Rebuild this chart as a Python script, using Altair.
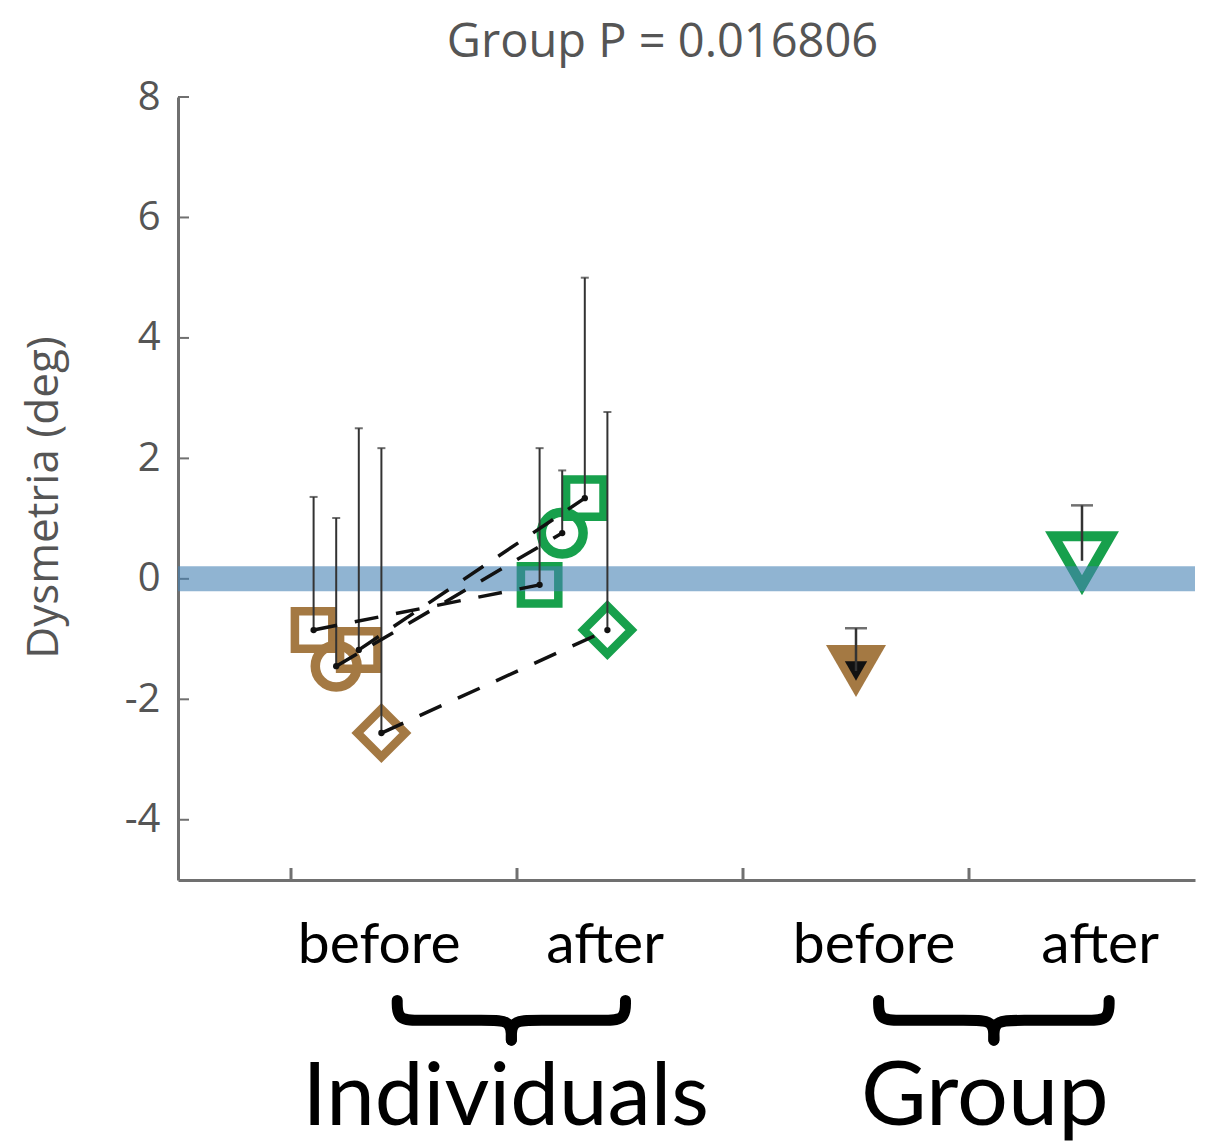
import altair as alt
import pandas as pd

# ---------------- data ----------------
subj_shape = ["square", "circle", "square", "diamond"]
before_x = [1.1, 1.2, 1.3, 1.4]
before_y = [-0.85, -1.45, -1.18, -2.56]
before_top = [1.36, 1.01, 2.50, 2.17]
after_x = [2.1, 2.2, 2.3, 2.4]
after_y = [-0.10, 0.76, 1.34, -0.85]
after_top = [2.17, 1.80, 5.0, 2.77]

group_x = [3.5, 4.5]
group_y = [-1.53, 0.30]
group_top = [-0.82, 1.22]
group_phase = ["before", "after"]

y_ticks = [-4, -2, 0, 2, 4, 6, 8]
x_ticks = [1, 2, 3, 4]

BROWN = "#a47943"
GREEN = "#17a04c"
AXC = "#707070"

W, H = 1017, 783
xs = alt.Scale(domain=[0.5, 5], nice=False, zero=False)
ys = alt.Scale(domain=[-5, 8], nice=False, zero=False)

XAX = alt.Axis(labels=False, ticks=False, grid=False, title=None, domainColor=AXC, domainWidth=3)
YAX = alt.Axis(values=y_ticks, ticks=False, grid=False,
               labelFontSize=40, labelColor="#555", labelFont="Open Sans",
               labelExpr="replace(datum.label, '\u2212', '-')",
               labelPadding=18, domainColor=AXC, domainWidth=3,
               title="Dysmetria (deg)", titleFontSize=44, titleFont="Open Sans",
               titleFontWeight="normal", titleColor="#555",
               titleX=-112, titleY=400)

rows = []
for i in range(4):
    rows.append(dict(subj=i, phase="before", shape=subj_shape[i], x=before_x[i], y=before_y[i], top=before_top[i]))
    rows.append(dict(subj=i, phase="after", shape=subj_shape[i], x=after_x[i], y=after_y[i], top=after_top[i]))
ind = pd.DataFrame(rows)
grp = pd.DataFrame(dict(x=group_x, y=group_y, top=group_top, phase=group_phase))

color_scale = alt.Scale(domain=["before", "after"], range=[BROWN, GREEN])

def X(f="x"):
    return alt.X(f"{f}:Q", scale=xs, axis=XAX)

def Y(f="y"):
    return alt.Y(f"{f}:Q", scale=ys, axis=YAX)

ytick_rules = alt.Chart(pd.DataFrame(dict(y=y_ticks))).mark_rule(color=AXC, strokeWidth=2).encode(
    y=Y(), x=alt.value(0), x2=alt.value(11))
xtick_rules = alt.Chart(pd.DataFrame(dict(x=x_ticks))).mark_rule(color=AXC, strokeWidth=3).encode(
    x=X(), y=alt.value(H), y2=alt.value(H - 12))

def shape_layer(shape, size, sw):
    return alt.Chart(ind).transform_filter(alt.datum.shape == shape).mark_point(
        shape=shape, size=size, strokeWidth=sw, filled=False, opacity=1).encode(
        x=X(), y=Y(), color=alt.Color("phase:N", scale=color_scale, legend=None))

squares = shape_layer("square", 1400, 8.5)
diamonds = shape_layer("diamond", 2300, 8.5)
circles = shape_layer("circle", 1750, 9.5)

grp_before_fill = alt.Chart(grp).transform_filter(alt.datum.phase == "before").mark_point(
    shape="triangle-down", size=3600, filled=True, color=BROWN, opacity=1).encode(x=X(), y=Y())
grp_before_core = alt.Chart(grp).transform_filter(alt.datum.phase == "before").mark_point(
    shape="triangle-down", size=500, filled=True, color="#111", opacity=1).encode(x=X(), y=Y())
grp_after = alt.Chart(grp).transform_filter(alt.datum.phase == "after").mark_point(
    shape="triangle-down", size=3200, filled=False, strokeWidth=10, color=GREEN, opacity=1).encode(x=X(), y=Y())

band = alt.Chart(pd.DataFrame(dict(y=[0]))).mark_rule(color="steelblue", opacity=0.6, strokeWidth=25).encode(
    y=Y(), x=alt.value(0), x2=alt.value(W))

ind_bars = alt.Chart(ind).mark_rule(color="#333", strokeWidth=2).encode(x=X(), y=Y(), y2="top:Q")
ind_caps = alt.Chart(ind).mark_tick(color="#333", orient="horizontal", size=8, thickness=2).encode(x=X(), y=Y("top"))
grp_bars = alt.Chart(grp).mark_rule(color="#333", strokeWidth=2.5).encode(x=X(), y=Y(), y2="top:Q")
grp_caps = alt.Chart(grp).mark_tick(color="#333", orient="horizontal", size=22, thickness=2.5).encode(x=X(), y=Y("top"))

dashes = alt.Chart(ind).mark_line(color="#111", strokeWidth=3.5, strokeDash=[24, 18]).encode(
    x=X(), y=Y(), detail="subj:N")

dots = alt.Chart(ind).mark_point(filled=True, color="#111", size=40, opacity=1).encode(x=X(), y=Y())

# braces (annotation shapes)
def brace(x0, x1, name):
    xc = (x0 + x1) / 2
    top, mid, bot = -7.0, -7.33, -7.66
    r = 0.1
    pts = []
    for k, (px, py) in enumerate([(x0, top), (x0, mid), (x0 + r, mid), (xc - r, mid), (xc, mid), (xc, bot)]):
        pts.append(dict(b=name + "L", o=k, x=px, y=py))
    for k, (px, py) in enumerate([(x1, top), (x1, mid), (x1 - r, mid), (xc + r, mid), (xc, mid), (xc, bot)]):
        pts.append(dict(b=name + "R", o=k, x=px, y=py))
    return pts

brace_df = pd.DataFrame(brace(1.47, 2.48, "ind") + brace(3.60, 4.62, "grp"))
braces = alt.Chart(brace_df).mark_line(color="black", strokeWidth=11, interpolate="basis",
                                       strokeCap="round", clip=False).encode(
    x=X(), y=Y(), detail="b:N", order="o:Q")

def label(txt, xv, yv, fs):
    return alt.Chart(pd.DataFrame(dict(t=[txt], x=[xv], y=[yv]))).mark_text(
        font="Lato", fontSize=fs, color="black", baseline="alphabetic", align="center").encode(
        x=X(), y=Y(), text="t:N")

labels = [
    label("before", 1.39, -6.37, 57), label("after", 2.39, -6.37, 57),
    label("before", 3.58, -6.37, 57), label("after", 4.58, -6.37, 57),
    label("Individuals", 1.95, -9.07, 87), label("Group", 4.07, -9.07, 90),
]

chart = alt.layer(
    ytick_rules, xtick_rules,
    squares, diamonds, circles,
    grp_before_fill, grp_before_core, grp_after,
    band, ind_bars, ind_caps, grp_bars, grp_caps, dashes, dots,
    braces, *labels,
).properties(
    width=W, height=H,
    title=alt.TitleParams("Group P = 0.016806", fontSize=47, font="Open Sans", color="#555",
                          fontWeight="normal", anchor="middle", dx=-24, offset=10),
    autosize=alt.AutoSizeParams(type="none"),
    padding={"left": 170, "top": 89, "right": 20, "bottom": 266},
).configure_view(stroke=None)

chart.save("out.html", embed_options={"renderer": "svg", "actions": False})
